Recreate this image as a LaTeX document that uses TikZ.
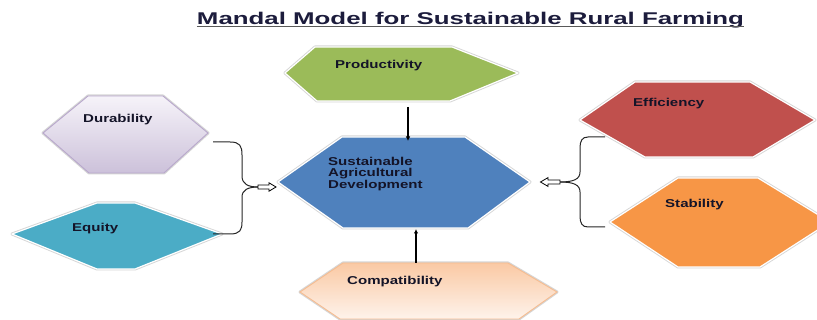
\documentclass[tikz,border=0pt]{standalone}
\usepackage{fontspec}
\setmainfont{Liberation Sans}
\newfontfamily\titlef[FakeStretch=1.52]{Liberation Sans}
\newfontfamily\labf[FakeStretch=1.32]{Liberation Sans}
\usetikzlibrary{arrows.meta}
\definecolor{txtc}{HTML}{141428}
\definecolor{titc}{HTML}{1C1C3C}
\definecolor{prodc}{HTML}{9BBB59}
\definecolor{ctrc}{HTML}{4F81BD}
\definecolor{equc}{HTML}{4BACC6}
\definecolor{effc}{HTML}{C0504D}
\definecolor{stabc}{HTML}{F79646}
\definecolor{durtop}{HTML}{F6F3F9}
\definecolor{durbot}{HTML}{CCC1DA}
\definecolor{durbd}{HTML}{B8A7CC}
\definecolor{comtop}{HTML}{FAC9A4}
\definecolor{combot}{HTML}{FEF3EB}
\definecolor{combd}{HTML}{F6BC90}
% name, style, six vertices: west, top-left, top-right, east, bottom-right, bottom-left
\newcommand{\hexa}[8]{%
  \coordinate (#1-1) at #3; \coordinate (#1-2) at #4; \coordinate (#1-3) at #5;
  \coordinate (#1-4) at #6; \coordinate (#1-5) at #7; \coordinate (#1-6) at #8;
  \draw[hexhalo] (#1-1) -- (#1-2) -- (#1-3) -- (#1-4) -- (#1-5) -- (#1-6) -- cycle;
  \draw[#2] (#1-1) -- (#1-2) -- (#1-3) -- (#1-4) -- (#1-5) -- (#1-6) -- cycle;}
\begin{document}
\begin{tikzpicture}[x=1pt,y=-1pt,
  hexhalo/.style={draw=black!16, line width=3pt, line join=round},
  hexbody/.style={draw=white, line width=1.2pt, line join=round},
  lab/.style={inner sep=0pt, anchor=west, text=txtc,
    font=\labf\bfseries\fontsize{11.4}{11.5}\selectfont},
  conn/.style={draw=black!85, line width=1pt},
  vconn/.style={draw=black, line width=1.3pt, -{Latex[length=4.5pt,width=4.5pt]}},
  blockarrow/.style={draw=black, line width=0.8pt, fill=white, line join=miter}]
\useasboundingbox (0,0) rectangle (817,320);
\fill[white] (0,0) rectangle (817,320);
\clip (0,0) rectangle (817,320);

% title
\node[inner sep=0pt, anchor=base, text=titc,
  font=\titlef\bfseries\fontsize{17}{20}\selectfont] (title) at (470.5,25)
  {Mandal Model for Sustainable Rural Farming};
\draw[black!65, line width=1.4pt] ([yshift=-1.6pt]title.base west) -- ([yshift=-1.6pt]title.base east);

% hexagons
\hexa{prod}{hexbody, fill=prodc}{(285,73)}{(315,47)}{(452,47)}{(518,73)}{(450,101)}{(317,101)}
\hexa{ctr}{hexbody, fill=ctrc}{(278,182)}{(342,137)}{(465,137)}{(530,182)}{(468,228)}{(343,228)}
\hexa{comp}{draw=combd, line width=0.9pt, top color=comtop, bottom color=combot}{(300,292)}{(343,263)}{(508,263)}{(557,292)}{(519,319)}{(340,319)}
\hexa{dur}{draw=durbd, line width=0.9pt, top color=durtop, bottom color=durbot}{(43,133)}{(88,96)}{(163,96)}{(208,133)}{(164,173)}{(89,173)}
\hexa{equ}{hexbody, fill=equc}{(12,234)}{(97,203)}{(135,203)}{(222,234)}{(135,269)}{(97,269)}
\hexa{eff}{hexbody, fill=effc}{(580,120)}{(635,82)}{(750,82)}{(815,120)}{(753,157)}{(645,157)}
\hexa{stab}{hexbody, fill=stabc}{(610,222)}{(678,178)}{(758,178)}{(830,222)}{(760,267)}{(678,267)}

% labels
\node[lab] (prodt) at (335,66) {Productivity};
\node[lab, align=left] (ctrt) at (328,174) {Sustainable\\Agricultural\\Development};
\node[lab] (comptt) at (347,281.5) {Compatibility};
\node[lab] (durt) at (83,119.5) {Durability};
\node[lab] (equt) at (72,228.5) {Equity};
\node[lab] (efft) at (633,104) {Efficiency};
\node[lab] (stabt) at (665,205) {Stability};

% connector end points
\coordinate (prodout) at (408,107);
\coordinate (ctrin-n) at (408,141);
\coordinate (compout) at (416,263);
\coordinate (ctrin-s) at (416,229);
\coordinate (durout) at (213,142);
\coordinate (equout) at (213,234);
\coordinate (ljoin) at (258,187);
\coordinate (effout) at (605,137);
\coordinate (stabout) at (605,227);
\coordinate (rjoin) at (560,182);

% vertical arrows
\draw[vconn] (prodout) -- (ctrin-n);
\draw[vconn] (compout) -- (ctrin-s);

% left brace
\draw[conn] (durout) -- (230,142) .. controls (240,142) and (242,146) .. (242,155)
  -- (242,176) .. controls (242,184) and (248,187) .. (ljoin);
\draw[conn] (equout) -- (230,234) .. controls (240,234) and (242,230) .. (242,222)
  -- (242,197) .. controls (242,190) and (248,187) .. (ljoin);
\draw[blockarrow] (ljoin) ++(0,-2) -- ++(11,0) -- ++(0,-2.2) -- ++(7,4.2) -- ++(-7,4.2) -- ++(0,-2.2) -- ++(-11,0) -- cycle;

% right brace
\draw[conn] (effout) -- (588,137) .. controls (582,137) and (580,141) .. (580,148)
  -- (580,172) .. controls (580,179) and (574,182) .. (rjoin);
\draw[conn] (stabout) -- (588,227) .. controls (582,227) and (580,223) .. (580,216)
  -- (580,192) .. controls (580,185) and (574,182) .. (rjoin);
\draw[blockarrow] (rjoin) ++(0,-2) -- ++(-12,0) -- ++(0,-2.4) -- ++(-7.5,4.4) -- ++(7.5,4.4) -- ++(0,-2.4) -- ++(12,0) -- cycle;
\end{tikzpicture}
\end{document}
